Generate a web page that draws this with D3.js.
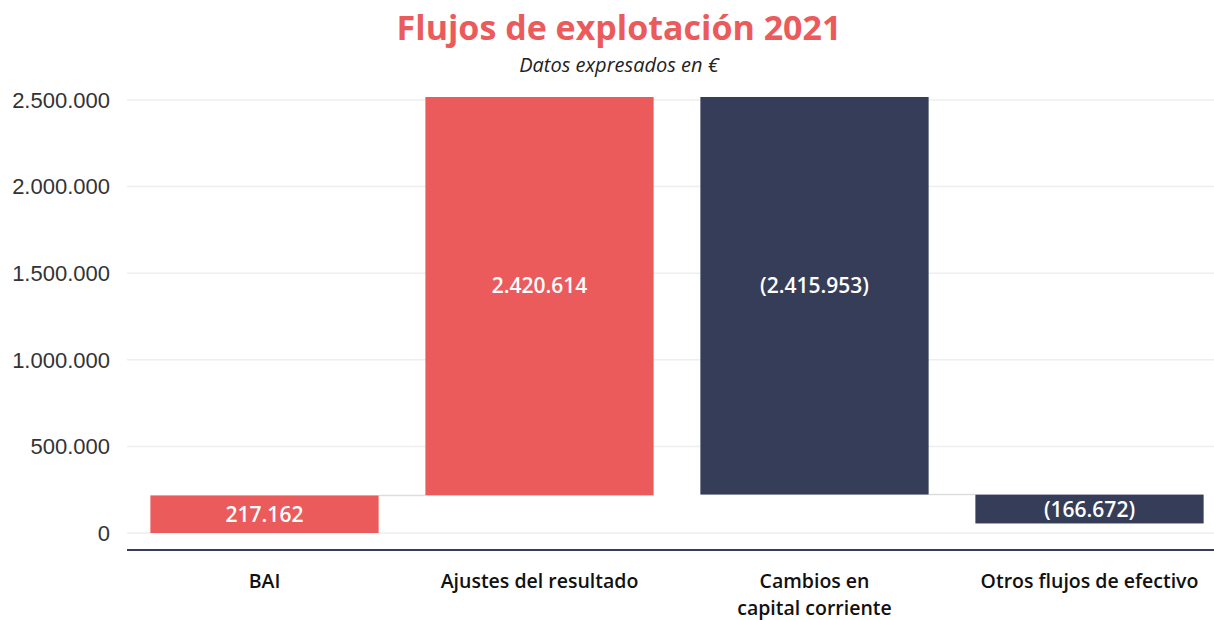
<!DOCTYPE html>
<html>
<head>
<meta charset="utf-8">
<script src="https://cdn.jsdelivr.net/npm/d3@7"></script>
<style>
  body { margin: 0; background: #fff; }
  svg { display: block; }
</style>
</head>
<body>
<script>
// chart data
var categories = ["BAI", "Ajustes del resultado", "Cambios en\ncapital corriente", "Otros flujos de efectivo"];
var values = [217162, 2420614, -2415953, -166672];
var valueLabels = ["217.162", "2.420.614", "(2.415.953)", "(166.672)"];
var yTicks = [0, 500000, 1000000, 1500000, 2000000, 2500000];

var width = 1214, height = 620;
var red = "#eb5b5c", navy = "#363d59";
var font = "'Open Sans', Lato, sans-serif";

var svg = d3.select("body").append("svg")
    .attr("width", width)
    .attr("height", height);

// running totals for the waterfall
var steps = [], acc = 0;
values.forEach(function(v, i) {
    steps.push({ cat: categories[i], start: acc, end: acc + v, label: valueLabels[i], v: v });
    acc += v;
});

var x = d3.scaleBand()
    .domain(categories)
    .range([127, 1227])
    .paddingInner(0.17)
    .paddingOuter(0.085);

var y = d3.scaleLinear()
    .domain([0, 2500000])
    .range([533, 100]);

var fmt = d3.formatLocale({ decimal: ",", thousands: ".", grouping: [3], currency: ["", "€"] }).format(",.0f");

// title
svg.append("text")
    .attr("x", 619).attr("y", 40)
    .attr("text-anchor", "middle")
    .attr("font-family", font)
    .attr("font-weight", "bold")
    .attr("font-size", 34)
    .attr("fill", red)
    .text("Flujos de explotación 2021");

svg.append("text")
    .attr("x", 619).attr("y", 72)
    .attr("text-anchor", "middle")
    .attr("font-family", font)
    .attr("font-style", "italic")
    .attr("font-size", 20)
    .attr("fill", "#222")
    .text("Datos expresados en €");

// gridlines
svg.append("g")
    .selectAll("line")
    .data(yTicks)
    .enter().append("line")
    .attr("x1", 127).attr("x2", width)
    .attr("y1", function(d) { return y(d); })
    .attr("y2", function(d) { return y(d); })
    .attr("stroke", "#eeeeee")
    .attr("stroke-width", 1.5);

// y tick labels
svg.append("g")
    .selectAll("text")
    .data(yTicks)
    .enter().append("text")
    .attr("x", 110)
    .attr("y", function(d) { return y(d); })
    .attr("dy", "0.35em")
    .attr("text-anchor", "end")
    .attr("font-family", "'Liberation Sans', Arial, sans-serif")
    .attr("font-size", 22)
    .attr("fill", "#333")
    .text(function(d) { return fmt(d); });

svg.append("clipPath").attr("id", "plot")
    .append("rect")
    .attr("x", 0).attr("y", 97)
    .attr("width", width).attr("height", 500);

// connectors
var conn = svg.append("g").attr("clip-path", "url(#plot)");
steps.slice(0, -1).forEach(function(d, i) {
    var next = steps[i + 1];
    conn.append("line")
        .attr("x1", x(d.cat) + x.bandwidth())
        .attr("x2", x(next.cat))
        .attr("y1", y(d.end)).attr("y2", y(d.end))
        .attr("stroke", "#dddddd")
        .attr("stroke-width", 1.5);
});

// bars
svg.append("g")
    .attr("clip-path", "url(#plot)")
    .selectAll("rect")
    .data(steps)
    .enter().append("rect")
    .attr("x", function(d) { return x(d.cat); })
    .attr("width", x.bandwidth())
    .attr("y", function(d) { return y(Math.max(d.start, d.end)); })
    .attr("height", function(d) { return Math.abs(y(d.start) - y(d.end)); })
    .attr("fill", function(d) { return d.v >= 0 ? red : navy; });

// value labels
svg.append("g")
    .selectAll("text")
    .data(steps)
    .enter().append("text")
    .attr("x", function(d) { return x(d.cat) + x.bandwidth() / 2; })
    .attr("y", function(d) { return y((d.start + d.end) / 2); })
    .attr("dy", "0.36em")
    .attr("text-anchor", "middle")
    .attr("font-family", font)
    .attr("font-weight", 600)
    .attr("font-size", 21)
    .attr("fill", "#fff")
    .text(function(d) { return d.label; });

// baseline
svg.append("line")
    .attr("x1", 127).attr("x2", width)
    .attr("y1", 550).attr("y2", 550)
    .attr("stroke", navy)
    .attr("stroke-width", 2);

// category labels
var cats = svg.append("g")
    .selectAll("text")
    .data(categories)
    .enter().append("text")
    .attr("x", function(d) { return x(d) + x.bandwidth() / 2; })
    .attr("y", 588)
    .attr("text-anchor", "middle")
    .attr("font-family", font)
    .attr("font-weight", 600)
    .attr("font-size", 19.5)
    .attr("fill", "#111");

cats.each(function(d) {
    var t = d3.select(this);
    d.split("\n").forEach(function(line, i) {
        t.append("tspan")
            .attr("x", t.attr("x"))
            .attr("dy", i === 0 ? 0 : 27)
            .text(line);
    });
});
</script>
</body>
</html>
